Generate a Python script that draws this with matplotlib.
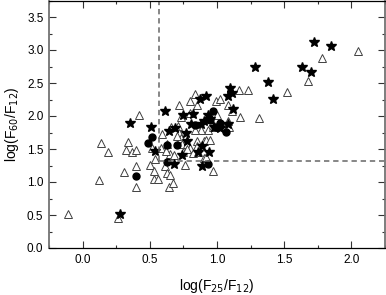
import numpy as np
import matplotlib
matplotlib.use('Agg')
import matplotlib.pyplot as plt
from matplotlib.ticker import MultipleLocator

plt.rcParams['font.family'] = ['Liberation Sans', 'DejaVu Sans']

# open triangles
tri_x = [-0.11, 0.26, 0.12, 0.14, 0.19, 0.31, 0.32, 0.34, 0.37, 0.40, 0.40, 0.40,
         0.42, 0.50, 0.53, 0.53, 0.56, 0.54, 0.52, 0.58, 0.59, 0.61, 0.63, 0.65,
         0.64, 0.67, 0.63, 0.65, 0.68, 0.66, 0.72, 0.73, 0.71, 0.72, 0.73, 0.74,
         0.75, 0.76, 0.80, 0.80, 0.78, 0.80, 0.82, 0.84, 0.85, 0.85, 0.85, 0.86,
         0.90, 0.90, 0.92, 0.95, 0.93, 0.88, 0.84, 0.97, 0.99, 1.02, 1.00, 0.97,
         1.08, 1.08, 1.11, 1.17, 1.16, 1.23, 1.31, 1.52, 1.68, 1.78, 2.05, 1.09,
         0.70, 0.78, 0.62, 0.92]
tri_y = [0.52, 0.45, 1.03, 1.59, 1.45, 1.15, 1.48, 1.60, 1.45, 1.49, 1.24, 0.92,
         2.02, 1.26, 1.17, 1.04, 1.05, 1.35, 1.52, 1.52, 1.72, 1.25, 1.14, 1.11,
         0.92, 0.99, 1.58, 1.43, 1.41, 1.84, 2.16, 1.98, 1.85, 1.74, 1.67, 1.58,
         1.46, 1.26, 2.22, 2.04, 1.58, 1.52, 1.44, 2.34, 2.16, 1.62, 1.54, 1.46,
         1.36, 1.62, 1.64, 1.63, 1.79, 1.79, 1.79, 1.84, 2.22, 2.26, 2.02, 1.16,
         1.93, 2.17, 2.07, 1.99, 2.40, 2.39, 1.97, 2.36, 2.53, 2.88, 2.99, 1.84,
         1.70, 1.50, 1.47, 1.38]

# filled stars
star_x = [0.28, 0.35, 0.51, 0.54, 0.61, 0.64, 0.69, 0.75, 0.77, 0.78, 0.74, 0.68,
          0.82, 0.81, 0.87, 0.92, 0.88, 0.90, 0.93, 0.95, 0.86, 0.89, 0.94, 0.89,
          0.98, 1.08, 1.08, 1.10, 1.11, 1.12, 1.28, 1.38, 1.42, 1.63, 1.70, 1.72,
          1.85, 1.02]
star_y = [0.52, 1.89, 1.83, 1.47, 2.07, 1.78, 1.82, 2.02, 1.74, 1.62, 1.41, 1.28,
          2.03, 1.88, 2.26, 2.30, 1.88, 1.92, 2.02, 1.95, 1.46, 1.54, 1.45, 1.24,
          1.83, 1.88, 2.30, 2.42, 2.35, 2.11, 2.74, 2.52, 2.26, 2.74, 2.66, 3.12,
          3.06, 1.82]

# filled circles
circ_x = [0.40, 0.49, 0.52, 0.63, 0.63, 0.70, 0.93, 0.97, 0.94, 0.99, 1.02, 1.07,
          0.84, 0.95]
circ_y = [1.09, 1.59, 1.68, 1.56, 1.30, 1.56, 1.27, 2.07, 1.97, 1.84, 1.90, 1.76,
          1.86, 1.94]

x_cut = 0.57
y_cut = 1.32

fig = plt.figure(figsize=(3.86, 2.95), dpi=100)
ax = fig.add_axes([49/386, 47/295, 336/386, 247.5/295])

ax.plot(tri_x, tri_y, linestyle='none', marker='^', ms=5.6, mfc='white',
        mec='0.25', mew=0.7)
ax.plot(star_x, star_y, linestyle='none', marker='*', ms=7.5, color='black')
ax.plot(circ_x, circ_y, linestyle='none', marker='o', ms=5, color='black')

ax.plot([x_cut, x_cut], [y_cut, 3.75], '--', color='0.4', lw=1.1, dashes=(3.5, 2.5))
ax.plot([x_cut, 2.25], [y_cut, y_cut], '--', color='0.4', lw=1.1, dashes=(3.5, 2.5))

ax.set_xlim(-0.25, 2.25)
ax.set_ylim(0.0, 3.75)
ax.xaxis.set_major_locator(MultipleLocator(0.5))
ax.xaxis.set_minor_locator(MultipleLocator(0.25))
ax.yaxis.set_major_locator(MultipleLocator(0.5))
ax.yaxis.set_minor_locator(MultipleLocator(0.25))
ax.xaxis.set_major_formatter(matplotlib.ticker.FormatStrFormatter('%.1f'))
ax.yaxis.set_major_formatter(matplotlib.ticker.FormatStrFormatter('%.1f'))
ax.tick_params(which='both', direction='in', top=True, right=True, labelsize=8.5,
               color='0.2')
ax.tick_params(which='major', length=5, width=0.8, pad=4)
ax.tick_params(which='minor', length=2.5, width=0.8)

for s in ['left', 'right']:
    ax.spines[s].set_color('0.45')
    ax.spines[s].set_linewidth(1.3)
ax.spines['bottom'].set_linewidth(0.9)
ax.spines['top'].set_linewidth(0.9)

ax.set_xlabel(r'log(F$_{25}$/F$_{12}$)', fontsize=10, labelpad=8)
ax.set_ylabel(r'log(F$_{60}$/F$_{12}$)', fontsize=10, labelpad=4)

fig.savefig('out.png', dpi=100)
